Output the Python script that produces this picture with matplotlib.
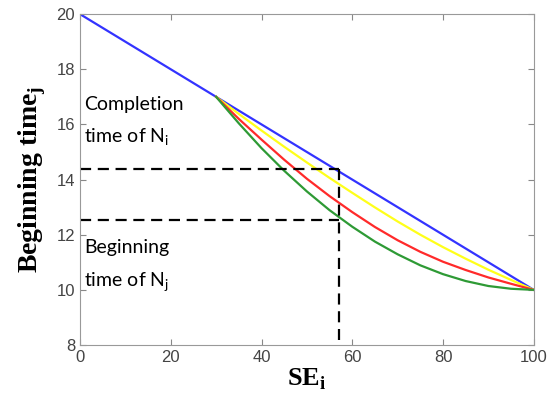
import matplotlib.pyplot as plt

plt.rcParams['mathtext.fontset'] = 'custom'
plt.rcParams['mathtext.rm'] = 'Liberation Serif'
plt.rcParams['mathtext.bf'] = 'Liberation Serif:bold'

# straight line (blue)
blueX = [0, 100]
blueY = [20, 10]

# curves that start at SE = 30
curveX = [30, 35, 40, 45, 50, 55, 60, 65, 70, 75, 80, 85, 90, 95, 100]
yellowY = [17, 16.38, 15.78, 15.19, 14.62, 14.06, 13.52, 12.99, 12.48,
           12.0, 11.55, 11.13, 10.73, 10.36, 10]
redY = [17, 16.2, 15.45, 14.72, 14.03, 13.4, 12.82, 12.28, 11.8,
        11.38, 11.02, 10.72, 10.45, 10.22, 10]
greenY = [17, 16.04, 15.14, 14.32, 13.57, 12.89, 12.29, 11.75, 11.29,
          10.89, 10.57, 10.32, 10.14, 10.04, 10]

# dashed guide lines
guideX = 57
completionY = 14.4
beginningY = 12.55
guideBottom = 8.2

xTicks = [0, 20, 40, 60, 80, 100]
yTicks = [8, 10, 12, 14, 16, 18, 20]

fig = plt.figure(figsize=(5.48, 4.04), dpi=100)
ax = fig.add_axes([0.146, 0.146, 0.828, 0.819])

ax.plot(blueX, blueY, color="#3333ff", lw=1.6)
ax.plot(curveX, yellowY, color="#ffff1a", lw=1.6)
ax.plot(curveX, redY, color="#ff2a2a", lw=1.6)
ax.plot(curveX, greenY, color="#2e9a35", lw=1.6)

dash = (0, (5, 3))
ax.plot([0, guideX], [completionY, completionY], color="black", lw=1.6, linestyle=dash)
ax.plot([0, guideX], [beginningY, beginningY], color="black", lw=1.6, linestyle=dash)
ax.plot([guideX, guideX], [completionY, guideBottom], color="black", lw=1.6, linestyle=dash)

txt = dict(fontsize=14, family="Lato", va="center")
ax.text(0.9, 16.74, "Completion", **txt)
ax.text(0.9, 15.54, r"time of N$_\mathregular{i}$", **txt)
ax.text(0.9, 11.55, "Beginning", **txt)
ax.text(0.9, 10.28, r"time of N$_\mathregular{j}$", **txt)

ax.set_xlim(0, 100)
ax.set_ylim(8, 20)
ax.set_xticks(xTicks)
ax.set_yticks(yTicks)
ax.tick_params(direction="in", top=True, right=True, colors="#888888",
               labelcolor="#444444", labelsize=12, length=4)
for lab in ax.get_xticklabels() + ax.get_yticklabels():
    lab.set_family("Liberation Sans")
for s in ax.spines.values():
    s.set_color("#999999")

ax.set_xlabel(r"SE$_\mathbf{i}$", family="Liberation Serif", fontweight="bold",
              fontsize=19, labelpad=1)
ax.set_ylabel(r"Beginning time$_\mathbf{j}$", family="Liberation Serif",
              fontweight="bold", fontsize=20, labelpad=6)

fig.savefig("out.png", dpi=100)
